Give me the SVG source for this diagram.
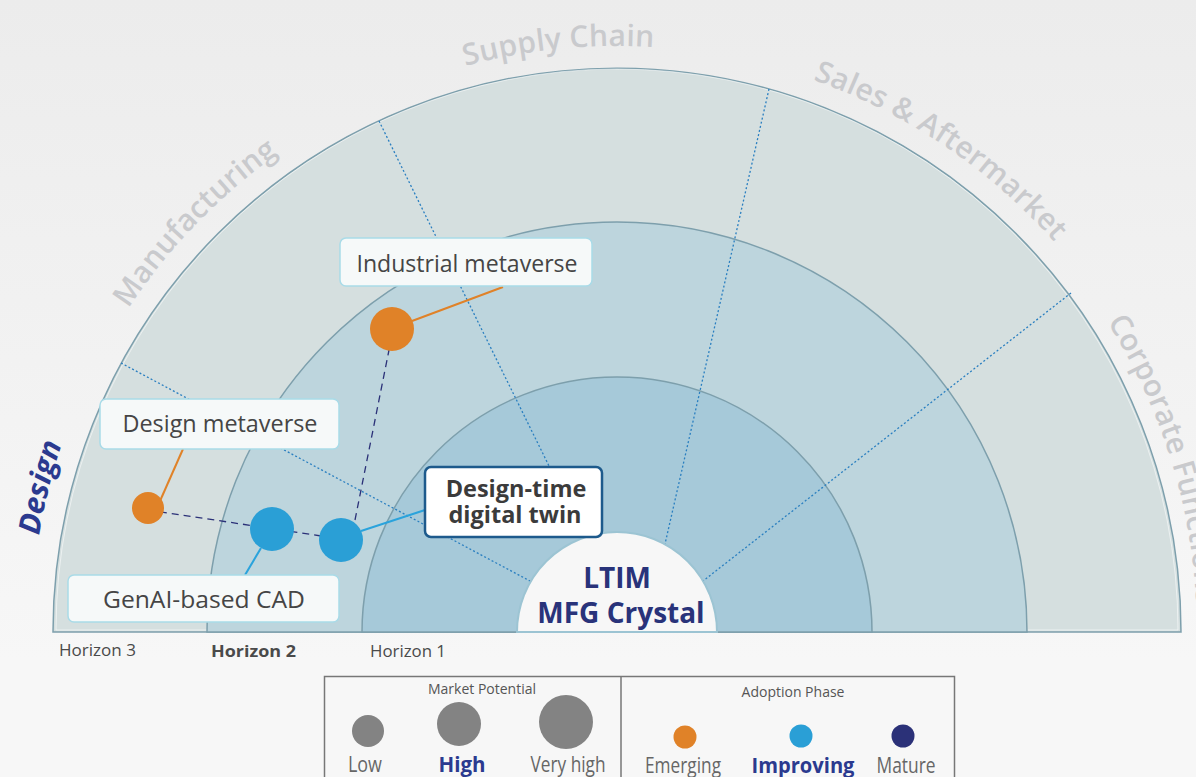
<svg xmlns="http://www.w3.org/2000/svg" xmlns:xlink="http://www.w3.org/1999/xlink" width="1196" height="777" viewBox="0 0 1196 777">
  <defs>
    <linearGradient id="bg" x1="0" y1="0" x2="0" y2="1">
      <stop offset="0" stop-color="#ececec"/>
      <stop offset="0.85" stop-color="#f7f7f7"/>
      <stop offset="1" stop-color="#f7f7f7"/>
    </linearGradient>
    <path id="arcDesign" d="M 209.2 1052.8 A 586 586 0 0 1 456.4 68.4"/>
    <path id="arcManu" d="M 53.4 792.5 A 586 586 0 0 1 759.8 63.6"/>
    <path id="arcSupply" d="M 82.9 390.8 A 586 586 0 0 1 1092.9 290.1"/>
    <path id="arcSales" d="M 359.2 105.8 A 586 586 0 0 1 1201.7 671.9"/>
    <path id="arcCorp" d="M 742.5 65.7 A 580 580 0 0 1 1044.6 1023.8"/>
    <style>
      .ring { stroke: #7d9fac; stroke-width: 1.5; }
      .sector { fill: none; stroke: #2a7fc0; stroke-width: 1.3; stroke-dasharray: 2 2.2; }
      .seclabel { font-family: "Open Sans", "Noto Sans", sans-serif; font-weight: 600; font-size: 30px; letter-spacing: 0.2px; fill: #c9cacd; }
      .box { fill: #f6f9f9; stroke: #a9dbe8; stroke-width: 1.5; }
      .boxtxt { font-family: "Open Sans", "Noto Sans", sans-serif; font-size: 24px; fill: #454545; text-anchor: middle; }
      .dttxt { font-family: "Open Sans", "Noto Sans", sans-serif; font-weight: 700; font-size: 23.5px; fill: #3b3b3b; text-anchor: middle; }
      .orange { fill: #e08228; }
      .blue { fill: #2a9fd6; }
      .navy { fill: #2b3178; }
      .lorange { stroke: #e08228; stroke-width: 2; fill: none; }
      .lblue { stroke: #2aa3dc; stroke-width: 2; fill: none; }
      .ldash { stroke: #2b3178; stroke-width: 1.3; stroke-dasharray: 7 5; fill: none; }
      .horizon { font-family: "Open Sans", "Noto Sans", sans-serif; font-size: 16px; fill: #4a4a4a; }
      .legtitle { font-family: "Open Sans", "Noto Sans", sans-serif; font-size: 14px; fill: #555; text-anchor: middle; }
      .leglbl { font-family: "Open Sans", "Noto Sans", sans-serif; font-size: 22px; fill: #666; text-anchor: middle; }
      .legbold { font-weight: 700; fill: #2b3a8f; }
      .grey { fill: #838383; }
    </style>
  </defs>

  <rect id="background" x="0" y="0" width="1196" height="777" fill="url(#bg)"/>

  <g id="rings">
    <path class="ring" d="M 53 632 A 564 564 0 0 1 1181 632 Z" fill="#d5dfdf"/>
    <path d="M 56 630 A 561 561 0 0 1 1178 630 Z" fill="none" stroke="#ffffff" stroke-opacity="0.55" stroke-width="1"/>
    <path class="ring" d="M 207 632 A 410 410 0 0 1 1027 632 Z" fill="#bdd5dd"/>
    <path class="ring" d="M 362 632 A 255 255 0 0 1 872 632 Z" fill="#a6c9d9"/>
  </g>

  <g id="sector-lines">
    <line class="sector" x1="121" y1="363" x2="530" y2="581"/>
    <line class="sector" x1="379" y1="121" x2="584" y2="537"/>
    <line class="sector" x1="769" y1="89" x2="665" y2="544"/>
    <line class="sector" x1="1071" y1="293" x2="703" y2="581"/>
  </g>

  <g id="hub">
    <path d="M 517 632 A 100 100 0 0 1 717 632 Z" fill="#f7f7f7" stroke="#9cc4d3" stroke-width="2"/>
    <text font-family="'Open Sans', 'Noto Sans', sans-serif" font-weight="700" font-size="28" fill="#29337a" text-anchor="middle" x="617" y="588">LTIM</text>
    <text font-family="'Open Sans', 'Noto Sans', sans-serif" font-weight="700" font-size="28" fill="#29337a" text-anchor="middle" x="621" y="623">MFG Crystal</text>
  </g>

  <g id="sector-labels">
    <text font-family="'Open Sans', 'Noto Sans', sans-serif" font-weight="700" font-style="italic" font-size="30" fill="#2b3a8f"><textPath xlink:href="#arcDesign" href="#arcDesign" startOffset="50%" text-anchor="middle">Design</textPath></text>
    <text class="seclabel"><textPath xlink:href="#arcManu" href="#arcManu" startOffset="50%" text-anchor="middle">Manufacturing</textPath></text>
    <text class="seclabel"><textPath xlink:href="#arcSupply" href="#arcSupply" startOffset="50%" text-anchor="middle">Supply Chain</textPath></text>
    <text class="seclabel"><textPath xlink:href="#arcSales" href="#arcSales" startOffset="50%" text-anchor="middle">Sales &amp; Aftermarket</textPath></text>
    <text class="seclabel"><textPath xlink:href="#arcCorp" href="#arcCorp" startOffset="50%" text-anchor="middle">Corporate Functions</textPath></text>
  </g>

  <g id="horizons">
    <text class="horizon" x="59" y="656" textLength="77" lengthAdjust="spacingAndGlyphs">Horizon 3</text>
    <text class="horizon" x="211" y="657" font-weight="700" fill="#3a3a3a" textLength="85" lengthAdjust="spacingAndGlyphs">Horizon 2</text>
    <text class="horizon" x="370" y="657" textLength="76" lengthAdjust="spacingAndGlyphs">Horizon 1</text>
  </g>

  <g id="connectors">
    <line class="ldash" x1="148" y1="510" x2="341" y2="539"/>
    <line class="ldash" x1="355" y1="520" x2="389" y2="350"/>
    <line class="lorange" x1="412" y1="321" x2="503" y2="287"/>
    <line class="lorange" x1="160" y1="501" x2="183" y2="449"/>
    <line class="lblue" x1="261" y1="548" x2="245" y2="575"/>
    <line class="lblue" x1="361" y1="531" x2="425" y2="510"/>
  </g>

  <g id="node-industrial-metaverse">
    <rect class="box" x="340" y="238" width="252" height="48" rx="6"/>
    <text class="boxtxt" x="467" y="272" textLength="221" lengthAdjust="spacingAndGlyphs">Industrial metaverse</text>
    <circle class="orange" cx="392" cy="329" r="22"/>
  </g>

  <g id="node-design-metaverse">
    <rect class="box" x="100" y="399" width="239" height="50" rx="6"/>
    <text class="boxtxt" x="220" y="432" textLength="195" lengthAdjust="spacingAndGlyphs">Design metaverse</text>
    <circle class="orange" cx="148" cy="508" r="16"/>
  </g>

  <g id="node-genai-cad">
    <rect class="box" x="68" y="575" width="271" height="47" rx="6"/>
    <text class="boxtxt" x="204" y="608" textLength="202" lengthAdjust="spacingAndGlyphs">GenAI-based CAD</text>
    <circle class="blue" cx="272" cy="529" r="22"/>
  </g>

  <g id="node-design-time-digital-twin">
    <rect x="425" y="467" width="177" height="70" rx="6" fill="#ffffff" stroke="#1d5a8c" stroke-width="2.5"/>
    <text class="dttxt" x="516" y="497">Design-time</text>
    <text class="dttxt" x="515" y="523">digital twin</text>
    <circle class="blue" cx="341" cy="540" r="22"/>
  </g>

  <g id="legend">
    <rect x="324.5" y="676.5" width="630" height="120" fill="#f7f7f7" stroke="#777" stroke-width="1.5"/>
    <line x1="621" y1="676" x2="621" y2="777" stroke="#777" stroke-width="1.5"/>
    <text class="legtitle" x="482" y="694">Market Potential</text>
    <text class="legtitle" x="793" y="697">Adoption Phase</text>
    <circle class="grey" cx="368" cy="731" r="16"/>
    <circle class="grey" cx="459" cy="724" r="22"/>
    <circle class="grey" cx="566" cy="722" r="27"/>
    <circle class="orange" cx="685" cy="737" r="11.5"/>
    <circle class="blue" cx="801" cy="736" r="11.5"/>
    <circle class="navy" cx="903" cy="736" r="11.5"/>
    <text class="leglbl" x="365" y="772" textLength="34" lengthAdjust="spacingAndGlyphs">Low</text>
    <text class="leglbl legbold" x="462" y="772" textLength="47" lengthAdjust="spacingAndGlyphs">High</text>
    <text class="leglbl" x="568" y="772" textLength="75" lengthAdjust="spacingAndGlyphs">Very high</text>
    <text class="leglbl" x="683" y="773" textLength="76" lengthAdjust="spacingAndGlyphs">Emerging</text>
    <text class="leglbl legbold" x="803" y="773" textLength="103" lengthAdjust="spacingAndGlyphs">Improving</text>
    <text class="leglbl" x="906" y="773" textLength="59" lengthAdjust="spacingAndGlyphs">Mature</text>
  </g>
</svg>
